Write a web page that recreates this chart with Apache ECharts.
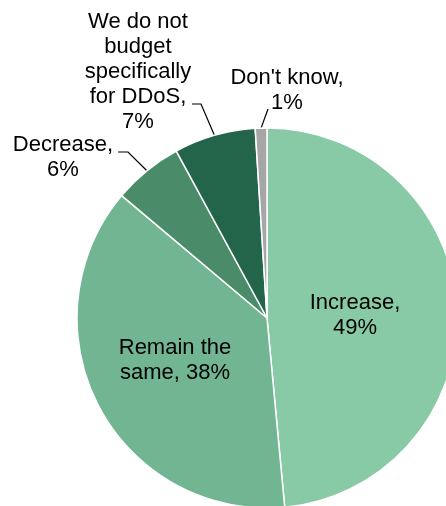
<!DOCTYPE html>
<html>
<head>
<meta charset="utf-8">
<script src="https://cdn.jsdelivr.net/npm/echarts@6/dist/echarts.min.js"></script>
<style>
  html, body { margin: 0; padding: 0; background: #fff; }
  #chart { width: 446px; height: 506px; }
</style>
</head>
<body>
<div id="chart"></div>
<script>
// Budget expectation for DDoS protection
const categories = [
  'Increase',
  'Remain the\nsame',
  'Decrease',
  'We do not\nbudget\nspecifically\nfor DDoS',
  "Don't know"
];
const values = [49, 38, 6, 7, 1];
// whether the percentage goes on its own line after the comma
const valueOnNewLine = [true, false, true, true, true];
const colors = ['#88c9a6', '#72b592', '#4a8c69', '#23654a', '#a6a6a6'];

// label placement (centre of the text block) and leader-line elbows
const labelPos = [
  { x: 355, y: 315 },
  { x: 175, y: 360 },
  { x: 63, y: 157 },
  { x: 138, y: 72 },
  { x: 287, y: 90 }
];
const leaderBend = [null, null, [[128, 152], [118, 152]], [[201, 104], [192, 104]], [[268, 109], [268, 109]]];

const CX = 267, CY = 318, R = 190;
const total = values.reduce((a, b) => a + b, 0);

function edgePoint(i) {
  let before = 0;
  for (let k = 0; k < i; k++) before += values[k];
  const mid = (before + values[i] / 2) / total * Math.PI * 2;
  return [CX + R * Math.sin(mid), CY - R * Math.cos(mid)];
}

const chart = echarts.init(document.getElementById('chart'), null, { renderer: 'canvas' });

chart.setOption({
  animation: false,
  backgroundColor: '#ffffff',
  series: [{
    type: 'pie',
    center: [CX, CY],
    radius: [0, R],
    startAngle: 90,
    clockwise: true,
    avoidLabelOverlap: false,
    silent: true,
    itemStyle: { borderColor: '#ffffff', borderWidth: 1.5 },
    label: {
      show: true,
      position: 'outside',
      color: '#000000',
      fontFamily: 'Liberation Sans, Arial, sans-serif',
      fontSize: 22,
      lineHeight: 25,
      align: 'center',
      formatter: function (p) {
        const sep = valueOnNewLine[p.dataIndex] ? ',\n' : ', ';
        return p.name + sep + p.value + '%';
      }
    },
    labelLine: {
      show: true,
      length: 10,
      length2: 10,
      lineStyle: { color: '#000000', width: 1.2 }
    },
    labelLayout: function (params) {
      const i = params.dataIndex;
      const out = {
        x: labelPos[i].x,
        y: labelPos[i].y,
        align: 'center',
        verticalAlign: 'middle'
      };
      if (leaderBend[i]) {
        out.labelLinePoints = [edgePoint(i)].concat(leaderBend[i]);
      }
      return out;
    },
    data: categories.map((name, i) => ({
      name: name,
      value: values[i],
      itemStyle: { color: colors[i] },
      label: leaderBend[i] ? {} : { position: 'inside' },
      labelLine: { show: !!leaderBend[i] }
    }))
  }]
});
</script>
</body>
</html>
